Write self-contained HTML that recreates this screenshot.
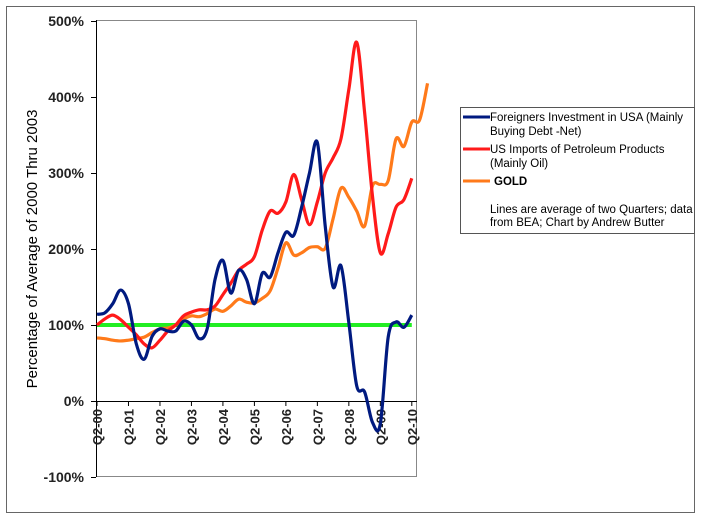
<!DOCTYPE html>
<html><head><meta charset="utf-8"><style>
body{margin:0;background:#fff;width:702px;height:522px;overflow:hidden}
svg{display:block;font-family:"Liberation Sans",Arial,sans-serif}
</style></head><body>
<svg id="chart" width="702" height="522">
<rect x="6.5" y="6.5" width="688" height="506" fill="#fff" stroke="#666"/>
<rect x="96.5" y="20.5" width="320" height="456" fill="#fff" stroke="#888"/>
<g id="axes"></g>
<g id="series"></g>
<text transform="translate(37,249) rotate(-90)" text-anchor="middle" font-size="15" fill="#000">Percentage of Average of 2000 Thru 2003</text>
<g>
<rect x="460.5" y="107.5" width="234" height="126" fill="#fff" stroke="#555"/>
<line x1="463" y1="117" x2="490" y2="117" stroke="#001a80" stroke-width="3"/>
<text x="490" y="121" font-size="11.5">Foreigners Investment in USA (Mainly</text>
<text x="490" y="135" font-size="11.5">Buying Debt -Net)</text>
<line x1="463" y1="149" x2="490" y2="149" stroke="#ff1a1a" stroke-width="3"/>
<text x="490" y="153" font-size="11.5">US Imports of Petroleum Products</text>
<text x="490" y="167" font-size="11.5">(Mainly Oil)</text>
<line x1="463" y1="181" x2="490" y2="181" stroke="#ff7a1a" stroke-width="3"/>
<text x="494" y="185" font-size="11.5" font-weight="bold">GOLD</text>
<text x="490" y="213" font-size="11.5">Lines are average of two Quarters; data</text>
<text x="490" y="226" font-size="11.5">from BEA; Chart by Andrew Butter</text>
</g>
</svg>
<script>
const yTicks=[500,400,300,200,100,0,-100];
const xLabels=["Q2-00","Q2-01","Q2-02","Q2-03","Q2-04","Q2-05","Q2-06","Q2-07","Q2-08","Q2-09","Q2-10"];
const foreigners=[114,116,128,146,128,75,55,85,95,92,92,105,100,82,95,160,185,142,172,160,128,168,163,195,222,218,255,300,340,230,150,178,103,20,12,-28,-30,84,104,97,113];
const petroleum=[100,108,113,107,97,87,75,70,80,92,100,112,117,120,120,125,140,155,172,180,190,225,250,247,262,298,265,232,262,300,320,345,410,472,380,270,195,220,255,265,293];
const gold=[83,82,80,79,80,82,84,90,95,96,100,108,112,111,115,121,118,125,134,130,129,135,145,175,208,192,195,202,203,201,240,280,268,250,230,283,285,290,345,335,367,370,418];
const baseline=[100,100];
const NS="http://www.w3.org/2000/svg";
const xq=i=>97+i*7.87;
const yv=v=>401-v*0.76;
const axes=document.getElementById('axes'),ser=document.getElementById('series');
function mk(tag,attrs,parent){const e=document.createElementNS(NS,tag);for(const k in attrs)e.setAttribute(k,attrs[k]);parent.appendChild(e);return e;}
mk('line',{x1:96.5,y1:20,x2:96.5,y2:477,stroke:'#000'},axes);
mk('line',{x1:96,y1:401.5,x2:417,y2:401.5,stroke:'#000'},axes);
yTicks.forEach(v=>{
 const t=mk('line',{x1:91,x2:96,y1:yv(v)+0.5,y2:yv(v)+0.5,stroke:'#000'},axes);
 
 
 const l=mk('text',{x:84,y:yv(v)+5,'text-anchor':'end','font-size':14,'font-weight':'bold',fill:'#222'},axes);
 l.textContent=v+'%';
 
 
});
xLabels.forEach((s,k)=>{
 const x=xq(k*4);
 const t=mk('line',{x1:x,x2:x,y1:401,y2:406,stroke:'#000'},axes);
 
 
 const l=mk('text',{transform:`translate(${x+5},409) rotate(-90)`,'text-anchor':'end','font-size':13,'font-weight':'bold',fill:'#222'},axes);
 l.textContent=s;
 
 
});
function smooth(pts){let d=`M${pts[0][0]},${pts[0][1]}`;for(let i=0;i<pts.length-1;i++){const p0=pts[i-1]||pts[i],p1=pts[i],p2=pts[i+1],p3=pts[i+2]||p2;d+=` C${p1[0]+(p2[0]-p0[0])/6},${p1[1]+(p2[1]-p0[1])/6} ${p2[0]-(p3[0]-p1[0])/6},${p2[1]-(p3[1]-p1[1])/6} ${p2[0]},${p2[1]}`;}return d;}
const b=mk('line',{x1:xq(0),x2:xq(40),y1:yv(baseline[0]),y2:yv(baseline[1]),stroke:'#22ee22','stroke-width':4},ser);


[[gold,'#ff7a1a','series-gold'],[petroleum,'#ff1a1a','series-petroleum'],[foreigners,'#001a80','series-foreigners']].forEach(([arr,c,n])=>{
 const p=mk('path',{d:smooth(arr.map((v,i)=>[xq(i),yv(v)])),fill:'none',stroke:c,'stroke-width':3.2,'stroke-linejoin':'round'},ser);
 
 
});
</script>
</body></html>
